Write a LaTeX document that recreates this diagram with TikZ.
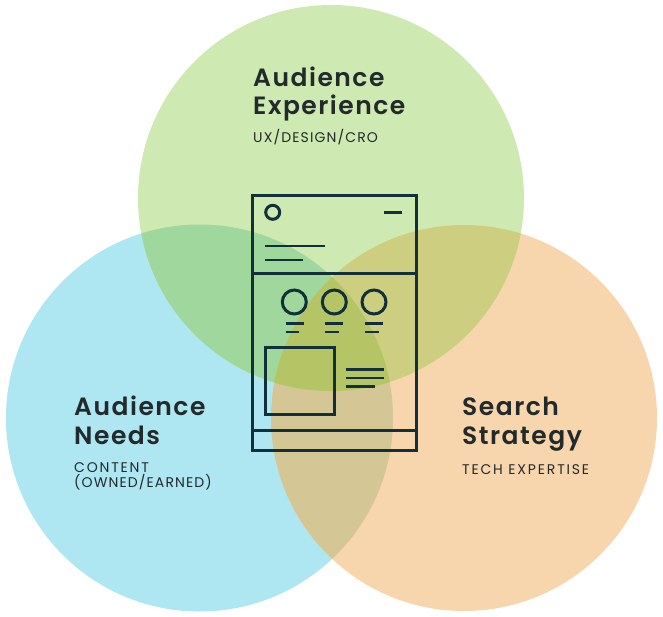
\documentclass[tikz,border=0pt]{standalone}
\usepackage{fontspec}
\newfontfamily\headfont[LetterSpace=6.0,BoldFont={Poppins SemiBold}]{Poppins}
\newfontfamily\subfont[LetterSpace=8.0]{Poppins}
\newfontfamily\subwidefont[LetterSpace=13.0]{Poppins}
\definecolor{cgreen}{HTML}{CFE9B2}
\definecolor{cblue}{HTML}{AEE6F2}
\definecolor{corange}{HTML}{F7D5AD}
\definecolor{cbg}{HTML}{9FD79C}
\definecolor{cgo}{HTML}{CDCE7F}
\definecolor{cbo}{HTML}{D5C695}
\definecolor{call}{HTML}{B5C565}
\definecolor{ink}{HTML}{12303A}
\definecolor{txt}{HTML}{222A2C}
\tikzset{
  wire/.style={draw=ink,line width=3pt},
  thin wire/.style={draw=ink,line width=2.6pt},
  head/.style={anchor=base west,inner sep=0pt,text=txt,font=\headfont\bfseries\fontsize{25}{25}\selectfont},
  sub/.style={anchor=base west,inner sep=0pt,text=txt,font=\subfont\fontsize{14}{14}\selectfont},
  subwide/.style={sub,font=\subwidefont\fontsize{14}{14}\selectfont},
}
\begin{document}
\begin{tikzpicture}[x=1pt,y=-1pt]
\useasboundingbox (0,0) rectangle (663,616);
\fill[white] (0,0) rectangle (663,616);
\def\cG{(331,198) circle (193)}
\def\cB{(199.5,418) circle (193.5)}
\def\cO{(464,418) circle (193)}
\fill[cblue] \cB;
\fill[corange] \cO;
\fill[cgreen] \cG;
\begin{scope}\clip \cB; \fill[cbo] \cO; \end{scope}
\begin{scope}\clip \cB; \fill[cbg] \cG; \end{scope}
\begin{scope}\clip \cO; \fill[cgo] \cG; \end{scope}
\begin{scope}\clip \cB; \clip \cO; \fill[call] \cG; \end{scope}
% wireframe
\draw[wire] (252.7,195) rectangle (416,450.7);
\draw[wire] (252.7,273.3) -- (416,273.3);
\draw[wire] (252.7,430.7) -- (416,430.7);
\draw[wire] (272.7,212.3) circle (7);
\draw[thin wire] (384.3,212.3) -- (402.3,212.3);
\draw[thin wire] (265.3,246) -- (325,246);
\draw[thin wire] (265.3,260) -- (303.3,260);
\draw[wire] (294.3,302) circle (12);
\draw[wire] (334.3,302) circle (12);
\draw[wire] (374,302) circle (12);
\draw[thin wire] (285.7,323.7) -- (303.7,323.7);
\draw[thin wire] (285.7,332) -- (299.3,332);
\draw[thin wire] (325,323.7) -- (343.3,323.7);
\draw[thin wire] (325,332) -- (339,332);
\draw[thin wire] (365,323.7) -- (383,323.7);
\draw[thin wire] (365,332) -- (378.7,332);
\draw[wire] (265,347.7) rectangle (334.7,414.3);
\draw[thin wire] (345.7,369.3) -- (384.3,369.3);
\draw[thin wire] (345.7,378) -- (384.3,378);
\draw[thin wire] (345.7,386.3) -- (375,386.3);
% text
\node[head] (ae1) at (253,86) {Audience};
\node[head] (ae2) at (253,114) {Experience};
\node[sub] (aes) at (253,142.5) {UX/DESIGN/CRO};
\node[head] (an1) at (74,415) {Audience};
\node[head] (an2) at (74,444) {Needs};
\node[subwide] (ans1) at (74,472) {CONTENT};
\node[sub] (ans2) at (74,487) {(OWNED/EARNED)};
\node[head] (ss1) at (462,415) {Search};
\node[head] (ss2) at (462,444) {Strategy};
\node[subwide] (sss) at (462,474) {TECH EXPERTISE};
\end{tikzpicture}
\end{document}
